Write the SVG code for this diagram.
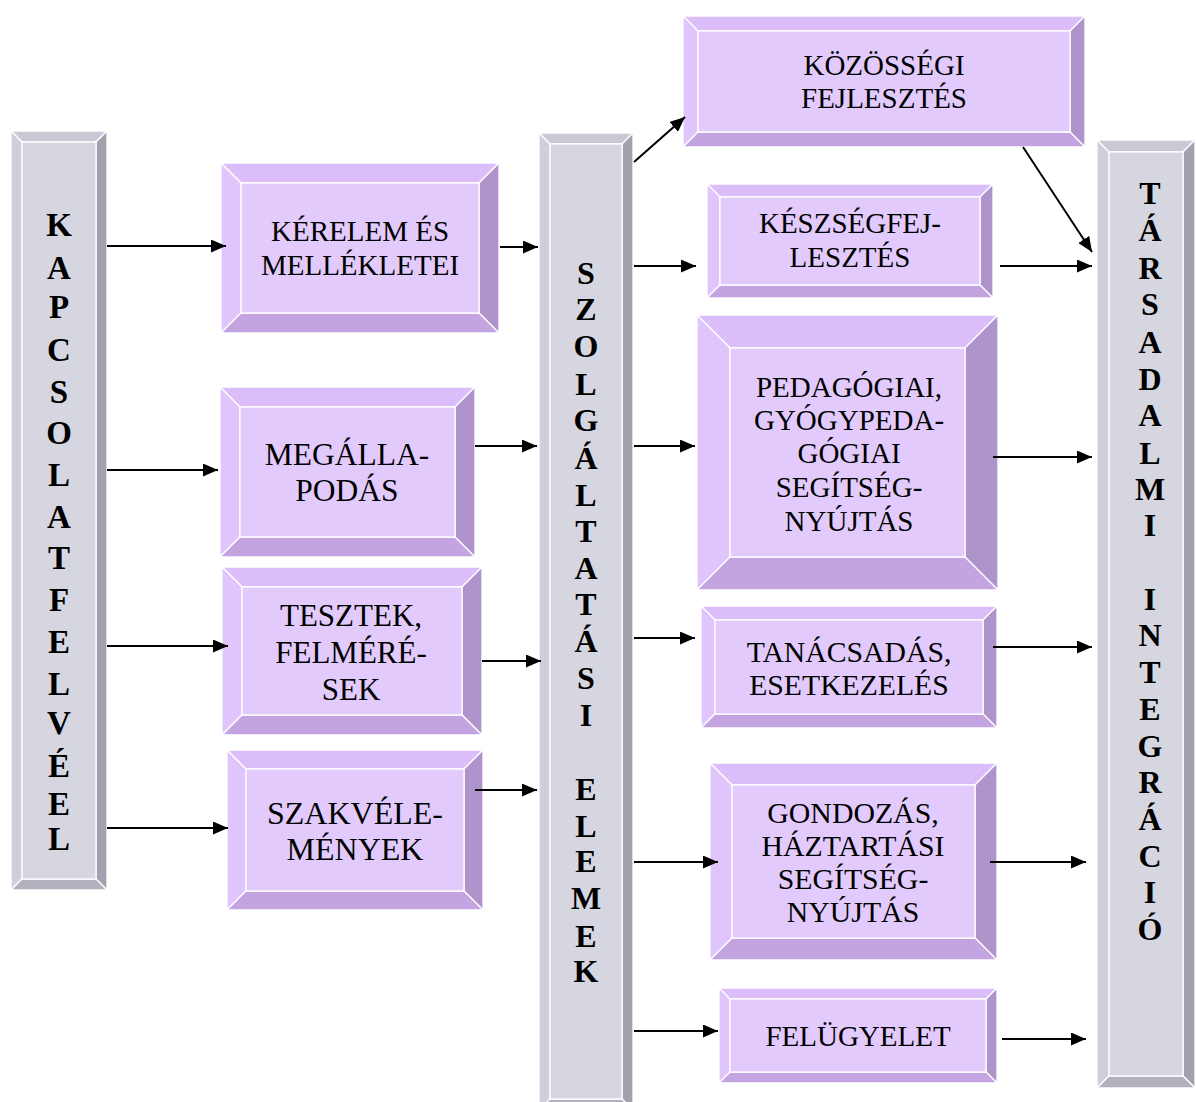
<svg xmlns="http://www.w3.org/2000/svg" width="1196" height="1102" viewBox="0 0 1196 1102">
<defs>
<style>
.pt{fill:#dbbdf9}.pl{fill:#dfc5fb}.pc{fill:#e2cbfc}.pr{fill:#ae94ca}.pb{fill:#c3a3e0}
.gt{fill:#c9c9d5}.gl{fill:#cfcfdb}.gc{fill:#d6d6e1}.gr{fill:#a2a2ae}.gb{fill:#b2b2be}
polygon,rect{stroke:#ffffff;stroke-width:1.3}
.tx{font-family:"Liberation Serif","Times New Roman",serif;font-size:29px;fill:#000;text-anchor:middle}
.cl{font-family:"Liberation Serif","Times New Roman",serif;font-size:32px;font-weight:bold;fill:#000;text-anchor:middle}
.ar{stroke:#000;stroke-width:2;fill:none;marker-end:url(#ah)}
</style>
<marker id="ah" markerUnits="userSpaceOnUse" markerWidth="15" markerHeight="13" refX="15" refY="6.5" orient="auto">
<path d="M0,0 L15,6.5 L0,13 z" fill="#000"/>
</marker>
</defs>
<rect x="0" y="0" width="1196" height="1102" fill="#fff" stroke="none"/>

<g id="kapcsolatfelvetel">
<polygon class="gt" points="11,131 107,131 96,142 22,142"/>
<polygon class="gl" points="11,131 22,142 22,879 11,890"/>
<polygon class="gr" points="107,131 107,890 96,879 96,142"/>
<polygon class="gb" points="11,890 22,879 96,879 107,890"/>
<rect class="gc" x="22" y="142" width="74" height="737"/>
<text class="cl" style="font-size:33px"><tspan x="59" y="236">K</tspan><tspan x="59" y="279">A</tspan><tspan x="59" y="318">P</tspan><tspan x="59" y="361">C</tspan><tspan x="59" y="403">S</tspan><tspan x="59" y="444">O</tspan><tspan x="59" y="486">L</tspan><tspan x="59" y="528">A</tspan><tspan x="59" y="569">T</tspan><tspan x="59" y="611">F</tspan><tspan x="59" y="653">E</tspan><tspan x="59" y="695">L</tspan><tspan x="59" y="734">V</tspan><tspan x="59" y="777">É</tspan><tspan x="59" y="815">E</tspan><tspan x="59" y="850">L</tspan></text>
</g>

<g id="szolgaltatasi">
<polygon class="gt" points="539,133 633,133 622,144 550,144"/>
<polygon class="gl" points="539,133 550,144 550,1099 539,1110"/>
<polygon class="gr" points="633,133 633,1110 622,1099 622,144"/>
<polygon class="gb" points="539,1110 550,1099 622,1099 633,1110"/>
<rect class="gc" x="550" y="144" width="72" height="955"/>
<text class="cl"><tspan x="586" y="284">S</tspan><tspan x="586" y="320">Z</tspan><tspan x="586" y="357">O</tspan><tspan x="586" y="395">L</tspan><tspan x="586" y="431">G</tspan><tspan x="586" y="469">Á</tspan><tspan x="586" y="506">L</tspan><tspan x="586" y="542">T</tspan><tspan x="586" y="579">A</tspan><tspan x="586" y="615">T</tspan><tspan x="586" y="652">Á</tspan><tspan x="586" y="689">S</tspan><tspan x="586" y="726">I</tspan><tspan x="586" y="800">E</tspan><tspan x="586" y="837">L</tspan><tspan x="586" y="872">E</tspan><tspan x="586" y="909">M</tspan><tspan x="586" y="947">E</tspan><tspan x="586" y="982">K</tspan></text>
</g>

<g id="tarsadalmi">
<polygon class="gt" points="1097,140 1195,140 1183,152 1109,152"/>
<polygon class="gl" points="1097,140 1109,152 1109,1076 1097,1088"/>
<polygon class="gr" points="1195,140 1195,1088 1183,1076 1183,152"/>
<polygon class="gb" points="1097,1088 1109,1076 1183,1076 1195,1088"/>
<rect class="gc" x="1109" y="152" width="74" height="924"/>
<text class="cl"><tspan x="1150" y="204">T</tspan><tspan x="1150" y="241">Á</tspan><tspan x="1150" y="279">R</tspan><tspan x="1150" y="315">S</tspan><tspan x="1150" y="353">A</tspan><tspan x="1150" y="390">D</tspan><tspan x="1150" y="426">A</tspan><tspan x="1150" y="464">L</tspan><tspan x="1150" y="500">M</tspan><tspan x="1150" y="536">I</tspan><tspan x="1150" y="610">I</tspan><tspan x="1150" y="646">N</tspan><tspan x="1150" y="683">T</tspan><tspan x="1150" y="720">E</tspan><tspan x="1150" y="757">G</tspan><tspan x="1150" y="793">R</tspan><tspan x="1150" y="830">Á</tspan><tspan x="1150" y="867">C</tspan><tspan x="1150" y="903">I</tspan><tspan x="1150" y="940">Ó</tspan></text>
</g>

<g id="kerelem">
<polygon class="pt" points="221,163 499,163 479,183 241,183"/>
<polygon class="pl" points="221,163 241,183 241,313 221,333"/>
<polygon class="pr" points="499,163 499,333 479,313 479,183"/>
<polygon class="pb" points="221,333 241,313 479,313 499,333"/>
<rect class="pc" x="241" y="183" width="238" height="130"/>
<text class="tx"><tspan x="360" y="241">KÉRELEM ÉS</tspan><tspan x="360" y="275">MELLÉKLETEI</tspan></text>
</g>

<g id="megallapodas">
<polygon class="pt" points="220,387 475,387 455,407 240,407"/>
<polygon class="pl" points="220,387 240,407 240,537 220,557"/>
<polygon class="pr" points="475,387 475,557 455,537 455,407"/>
<polygon class="pb" points="220,557 240,537 455,537 475,557"/>
<rect class="pc" x="240" y="407" width="215" height="130"/>
<text class="tx" style="font-size:31.5px"><tspan x="347" y="465">MEGÁLLA-</tspan><tspan x="347" y="501">PODÁS</tspan></text>
</g>

<g id="tesztek">
<polygon class="pt" points="222,567 482,567 462,587 242,587"/>
<polygon class="pl" points="222,567 242,587 242,715 222,735"/>
<polygon class="pr" points="482,567 482,735 462,715 462,587"/>
<polygon class="pb" points="222,735 242,715 462,715 482,735"/>
<rect class="pc" x="242" y="587" width="220" height="128"/>
<text class="tx" style="font-size:31px"><tspan x="351" y="626">TESZTEK,</tspan><tspan x="351" y="663">FELMÉRÉ-</tspan><tspan x="351" y="700">SEK</tspan></text>
</g>

<g id="szakvelemenyek">
<polygon class="pt" points="227,750 483,750 464,769 246,769"/>
<polygon class="pl" points="227,750 246,769 246,891 227,910"/>
<polygon class="pr" points="483,750 483,910 464,891 464,769"/>
<polygon class="pb" points="227,910 246,891 464,891 483,910"/>
<rect class="pc" x="246" y="769" width="218" height="122"/>
<text class="tx" style="font-size:32px"><tspan x="355" y="824">SZAKVÉLE-</tspan><tspan x="355" y="860">MÉNYEK</tspan></text>
</g>

<g id="kozossegi">
<polygon class="pt" points="683,16 1085,16 1070,31 698,31"/>
<polygon class="pl" points="683,16 698,31 698,132 683,147"/>
<polygon class="pr" points="1085,16 1085,147 1070,132 1070,31"/>
<polygon class="pb" points="683,147 698,132 1070,132 1085,147"/>
<rect class="pc" x="698" y="31" width="372" height="101"/>
<text class="tx"><tspan x="884" y="75">KÖZÖSSÉGI</tspan><tspan x="884" y="108">FEJLESZTÉS</tspan></text>
</g>

<g id="keszsegfejlesztes">
<polygon class="pt" points="707,184 993,184 980,197 720,197"/>
<polygon class="pl" points="707,184 720,197 720,285 707,298"/>
<polygon class="pr" points="993,184 993,298 980,285 980,197"/>
<polygon class="pb" points="707,298 720,285 980,285 993,298"/>
<rect class="pc" x="720" y="197" width="260" height="88"/>
<text class="tx"><tspan x="850" y="233">KÉSZSÉGFEJ-</tspan><tspan x="850" y="267">LESZTÉS</tspan></text>
</g>

<g id="pedagogiai">
<polygon class="pt" points="697,315 998,315 965,348 730,348"/>
<polygon class="pl" points="697,315 730,348 730,557 697,590"/>
<polygon class="pr" points="998,315 998,590 965,557 965,348"/>
<polygon class="pb" points="697,590 730,557 965,557 998,590"/>
<rect class="pc" x="730" y="348" width="235" height="209"/>
<text class="tx"><tspan x="849" y="397">PEDAGÓGIAI,</tspan><tspan x="849" y="430">GYÓGYPEDA-</tspan><tspan x="849" y="463">GÓGIAI</tspan><tspan x="849" y="497">SEGÍTSÉG-</tspan><tspan x="849" y="531">NYÚJTÁS</tspan></text>
</g>

<g id="tanacsadas">
<polygon class="pt" points="701,606 997,606 983,620 715,620"/>
<polygon class="pl" points="701,606 715,620 715,714 701,728"/>
<polygon class="pr" points="997,606 997,728 983,714 983,620"/>
<polygon class="pb" points="701,728 715,714 983,714 997,728"/>
<rect class="pc" x="715" y="620" width="268" height="94"/>
<text class="tx" style="font-size:29.7px"><tspan x="849" y="662">TANÁCSADÁS,</tspan><tspan x="849" y="695">ESETKEZELÉS</tspan></text>
</g>

<g id="gondozas">
<polygon class="pt" points="710,763 997,763 975,785 732,785"/>
<polygon class="pl" points="710,763 732,785 732,938 710,960"/>
<polygon class="pr" points="997,763 997,960 975,938 975,785"/>
<polygon class="pb" points="710,960 732,938 975,938 997,960"/>
<rect class="pc" x="732" y="785" width="243" height="153"/>
<text class="tx" style="font-size:29.8px"><tspan x="853" y="823">GONDOZÁS,</tspan><tspan x="853" y="856">HÁZTARTÁSI</tspan><tspan x="853" y="889">SEGÍTSÉG-</tspan><tspan x="853" y="922">NYÚJTÁS</tspan></text>
</g>

<g id="felugyelet">
<polygon class="pt" points="719,988 997,988 986,999 730,999"/>
<polygon class="pl" points="719,988 730,999 730,1072 719,1083"/>
<polygon class="pr" points="997,988 997,1083 986,1072 986,999"/>
<polygon class="pb" points="719,1083 730,1072 986,1072 997,1083"/>
<rect class="pc" x="730" y="999" width="256" height="73"/>
<text class="tx"><tspan x="858" y="1046">FELÜGYELET</tspan></text>
</g>

<g id="connectors">
<line class="ar" x1="107" y1="246" x2="226" y2="246"/>
<line class="ar" x1="107" y1="470" x2="218" y2="470"/>
<line class="ar" x1="107" y1="646" x2="228" y2="646"/>
<line class="ar" x1="107" y1="828" x2="228" y2="828"/>
<line class="ar" x1="500" y1="247" x2="538" y2="247"/>
<line class="ar" x1="475" y1="446" x2="537" y2="446"/>
<line class="ar" x1="482" y1="661" x2="541" y2="661"/>
<line class="ar" x1="475" y1="790" x2="537" y2="790"/>
<line class="ar" x1="634" y1="162" x2="685" y2="117"/>
<line class="ar" x1="634" y1="266" x2="696" y2="266"/>
<line class="ar" x1="634" y1="446" x2="695" y2="446"/>
<line class="ar" x1="634" y1="638" x2="695" y2="638"/>
<line class="ar" x1="634" y1="862" x2="718" y2="862"/>
<line class="ar" x1="634" y1="1031" x2="718" y2="1031"/>
<line class="ar" x1="1023" y1="147" x2="1092" y2="252"/>
<line class="ar" x1="1000" y1="266" x2="1092" y2="266"/>
<line class="ar" x1="993" y1="457" x2="1092" y2="457"/>
<line class="ar" x1="993" y1="647" x2="1092" y2="647"/>
<line class="ar" x1="990" y1="862" x2="1086" y2="862"/>
<line class="ar" x1="1002" y1="1039" x2="1086" y2="1039"/>
</g>
</svg>
